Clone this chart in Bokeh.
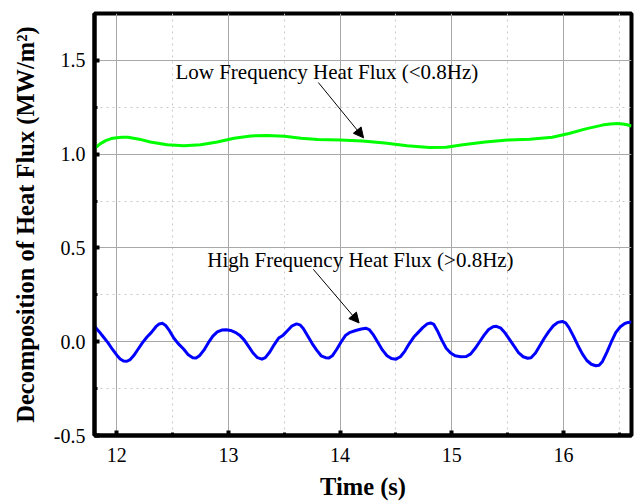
from bokeh.plotting import figure
from bokeh.models import Range1d, Arrow, NormalHead, Label, FixedTicker
from bokeh.embed import file_html
from bokeh.resources import INLINE

# ---- data ----
low_t = [11.80, 11.85, 11.90, 11.95, 12.00, 12.05, 12.10, 12.20, 12.30, 12.45, 12.60, 12.75, 12.90,
         13.05, 13.20, 13.35, 13.50, 13.65, 13.80, 14.00, 14.20, 14.40, 14.60,
         14.80, 14.95, 15.10, 15.30, 15.50, 15.70, 15.90, 16.05, 16.20, 16.35,
         16.42, 16.48, 16.53, 16.57, 16.61]
low_flux = [1.030, 1.055, 1.072, 1.083, 1.088, 1.090, 1.090, 1.080, 1.065, 1.050, 1.045, 1.050, 1.065,
            1.085, 1.097, 1.100, 1.095, 1.085, 1.078, 1.075, 1.070, 1.060, 1.045,
            1.035, 1.037, 1.050, 1.065, 1.075, 1.080, 1.090, 1.110, 1.135, 1.155,
            1.161, 1.163, 1.161, 1.157, 1.150]

high_t = [11.80, 11.84, 11.88, 11.92, 11.96, 12.00, 12.03, 12.06, 12.09, 12.12,
          12.15, 12.19, 12.23, 12.27, 12.31, 12.35, 12.38, 12.41, 12.44, 12.47,
          12.51, 12.55, 12.60, 12.64, 12.68, 12.71, 12.74, 12.78, 12.82, 12.86,
          12.90, 12.94, 12.98, 13.02, 13.06, 13.10, 13.14, 13.18, 13.22, 13.26,
          13.30, 13.33, 13.37, 13.41, 13.45, 13.49, 13.53, 13.57, 13.61, 13.64,
          13.67, 13.71, 13.75, 13.79, 13.83, 13.87, 13.90, 13.93, 13.97, 14.01,
          14.05, 14.09, 14.14, 14.19, 14.23, 14.26, 14.30, 14.34, 14.38, 14.42,
          14.46, 14.50, 14.54, 14.58, 14.62, 14.66, 14.70, 14.74, 14.78, 14.81,
          14.84, 14.87, 14.91, 14.95, 14.99, 15.03, 15.08, 15.13, 15.17, 15.21,
          15.25, 15.29, 15.33, 15.37, 15.40, 15.44, 15.48, 15.52, 15.56, 15.60,
          15.64, 15.68, 15.71, 15.75, 15.79, 15.83, 15.87, 15.91, 15.95, 15.99,
          16.02, 16.05, 16.09, 16.13, 16.17, 16.21, 16.25, 16.29, 16.32, 16.35,
          16.39, 16.43, 16.47, 16.51, 16.55, 16.58, 16.61]
high_flux = [0.082, 0.055, 0.025, -0.005, -0.040, -0.072, -0.092, -0.103, -0.104, -0.095,
             -0.075, -0.040, -0.005, 0.025, 0.050, 0.080, 0.095, 0.098, 0.085, 0.060,
             0.020, -0.010, -0.040, -0.070, -0.085, -0.087, -0.075, -0.045, -0.005, 0.030,
             0.052, 0.062, 0.064, 0.060, 0.050, 0.035, 0.010, -0.025, -0.060, -0.085,
             -0.093, -0.085, -0.055, -0.015, 0.020, 0.035, 0.060, 0.085, 0.095, 0.090,
             0.070, 0.030, -0.010, -0.045, -0.075, -0.085, -0.087, -0.075, -0.040, 0.000,
             0.035, 0.050, 0.060, 0.068, 0.072, 0.065, 0.035, -0.005, -0.045, -0.075,
             -0.090, -0.093, -0.080, -0.050, -0.010, 0.025, 0.050, 0.075, 0.095, 0.100,
             0.092, 0.060, 0.010, -0.035, -0.060, -0.075, -0.080, -0.079, -0.065, -0.035,
             0.000, 0.035, 0.065, 0.080, 0.082, 0.072, 0.045, 0.010, -0.025, -0.060,
             -0.080, -0.088, -0.085, -0.060, -0.020, 0.020, 0.055, 0.085, 0.103, 0.108,
             0.100, 0.075, 0.030, -0.020, -0.065, -0.100, -0.120, -0.128, -0.125, -0.105,
             -0.055, 0.000, 0.050, 0.080, 0.097, 0.103, 0.105]

x_ticks = [12, 13, 14, 15, 16]
x_minor = [12.5, 13.5, 14.5, 15.5, 16.5]
y_ticks = [-0.5, 0.0, 0.5, 1.0, 1.5]
y_tick_labels = ["-0.5", "0.0", "0.5", "1.0", "1.5"]
y_minor = [-0.25, 0.25, 0.75, 1.25, 1.75]

low_label = "Low Frequency Heat Flux (<0.8Hz)"
high_label = "High Frequency Heat Flux (>0.8Hz)"

FONT = "Liberation Serif"

p = figure(width=634, height=502, output_backend="svg", toolbar_location=None,
           x_range=Range1d(11.8, 16.61), y_range=Range1d(-0.5, 1.75),
           min_border_left=94, min_border_right=3, min_border_top=13, min_border_bottom=60)
p.background_fill_color = "white"
p.border_fill_color = "white"
p.outline_line_color = "black"
p.outline_line_width = 4

p.xaxis.ticker = FixedTicker(ticks=x_ticks, minor_ticks=x_minor)
p.yaxis.ticker = FixedTicker(ticks=y_ticks, minor_ticks=y_minor)
p.yaxis.major_label_overrides = {t: s for t, s in zip(y_ticks, y_tick_labels)}

for ax in (p.xaxis[0], p.yaxis[0]):
    ax.axis_line_width = 4
    ax.axis_line_color = "black"
    ax.major_tick_in = 5
    ax.major_tick_out = 0
    ax.major_tick_line_width = 4
    ax.minor_tick_in = 3
    ax.minor_tick_out = 0
    ax.minor_tick_line_width = 3
    ax.major_label_text_font = FONT
    ax.major_label_text_font_size = "20px"
    ax.major_label_text_color = "black"
    ax.axis_label_text_font = FONT
    ax.axis_label_text_font_style = "bold"
    ax.axis_label_text_font_size = "24.5px"
    ax.axis_label_text_color = "black"

p.xaxis.axis_label = "Time (s)"
p.yaxis.axis_label = "Decomposition of Heat Flux (MW/m\u00b2)"
p.xaxis.major_label_standoff = 12
p.yaxis.major_label_standoff = 9
p.xaxis.axis_label_standoff = 8
p.yaxis.axis_label_standoff = 12

for g in (p.xgrid[0], p.ygrid[0]):
    g.grid_line_color = "#a8a8a8"
    g.grid_line_width = 1
    g.minor_grid_line_color = "#c8c8c8"
    g.minor_grid_line_width = 1
    g.minor_grid_line_dash = "dotted"

p.line(low_t, low_flux, line_color="#00ff00", line_width=3, line_join="round")
p.line(high_t, high_flux, line_color="#0000ff", line_width=3, line_join="round")

p.add_layout(Label(x=12.525, y=1.436, text=low_label, text_font=FONT,
                   text_font_size="21px", text_color="black", text_baseline="alphabetic"))
p.add_layout(Label(x=12.81, y=0.435, text=high_label, text_font=FONT,
                   text_font_size="21px", text_color="black", text_baseline="alphabetic"))

p.add_layout(Arrow(end=NormalHead(size=10, fill_color="black", line_color="black"),
                   x_start=13.805, y_start=1.382, x_end=14.21, y_end=1.087,
                   line_color="black", line_width=1))
p.add_layout(Arrow(end=NormalHead(size=10, fill_color="black", line_color="black"),
                   x_start=13.76, y_start=0.386, x_end=14.17, y_end=0.10,
                   line_color="black", line_width=1))

open("out.html", "w").write(file_html(p, INLINE))
